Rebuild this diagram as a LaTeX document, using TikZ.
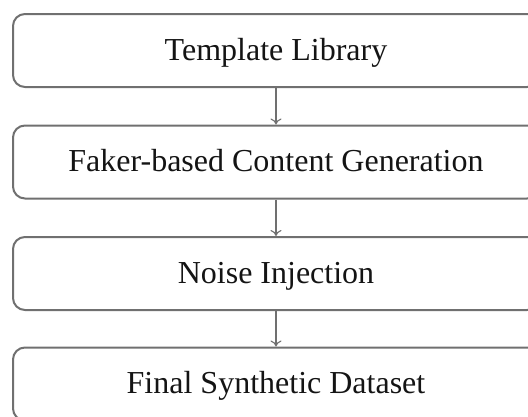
\documentclass[tikz,border=0pt]{standalone}
\usepackage{fontspec}
\setmainfont{Liberation Serif}
\usetikzlibrary{arrows.meta}
\definecolor{boxline}{HTML}{707070}
\definecolor{arrowline}{HTML}{707070}
\definecolor{txt}{HTML}{141414}
\begin{document}
\begin{tikzpicture}[x=1pt,y=1pt,
  stagebox/.style={draw=boxline, line width=2pt, rounded corners=12pt,
    minimum width=526pt, minimum height=73pt, inner sep=0pt,
    text height=24pt, text depth=5pt, text=txt,
    font=\fontsize{32}{36}\selectfont},
  flowarrow/.style={draw=arrowline, line width=1.1pt, -{To[length=6pt,width=11pt]}}]
\useasboundingbox (0,-416) rectangle (528,0);
\clip (0,-416) rectangle (528,0);
\node[stagebox] (b1) at (276,-50.5) {Template Library};
\node[stagebox] (b2) at (276,-162) {Faker-based Content Generation};
\node[stagebox] (b3) at (276,-273.5) {Noise Injection};
\node[stagebox] (b4) at (276,-384) {Final Synthetic Dataset};
\draw[flowarrow] (b1.south) -- (b2.north);
\draw[flowarrow] (b2.south) -- (b3.north);
\draw[flowarrow] (b3.south) -- (b4.north);
\end{tikzpicture}
\end{document}
